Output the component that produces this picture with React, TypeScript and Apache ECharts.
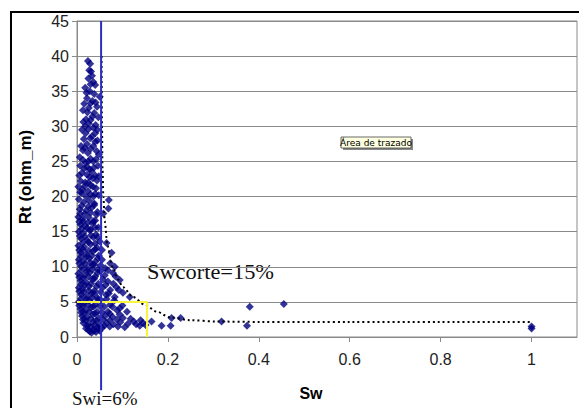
import React, { useEffect, useRef } from "react";
import * as echarts from "echarts";

// Scatter data [Sw, Rt]
const swUpper: number[][] = [
  [0.024, 39.3], [0.029, 38.9], [0.033, 37.2], [0.036, 36.3], [0.018, 35.5], [0.04, 35.9], [0.028, 35.0],
  [0.022, 34.0], [0.05, 34.2], [0.034, 33.6], [0.044, 32.8], [0.013, 32.3], [0.026, 32.6], [0.038, 31.9],
  [0.047, 31.3], [0.02, 31.0], [0.03, 30.9], [0.018, 30.0], [0.041, 30.2], [0.011, 29.5], [0.025, 29.6],
  [0.04, 29.0], [0.033, 28.6], [0.015, 28.2], [0.045, 28.0], [0.022, 27.5], [0.036, 27.2], [0.013, 26.6],
  [0.024, 26.2], [0.043, 26.5], [0.006, 25.6], [0.03, 25.4], [0.036, 25.0], [0.019, 24.8], [0.046, 24.4],
  [0.022, 24.2], [0.011, 23.4], [0.032, 23.6], [0.04, 23.0], [0.028, 22.8], [0.018, 22.0], [0.044, 22.3],
  [0.003, 21.4], [0.035, 21.4], [0.012, 21.0], [0.024, 20.8], [0.011, 20.5], [0.04, 20.4], [0.02, 20.0],
  [0.048, 20.2],
];
const swUpperFill: number[][] = [
  [0.027, 38.0], [0.031, 37.8], [0.025, 36.8], [0.03, 36.0], [0.021, 34.8], [0.038, 34.6], [0.016, 33.2],
  [0.03, 33.3], [0.041, 33.4], [0.023, 32.0], [0.034, 31.4], [0.014, 30.6], [0.026, 30.4], [0.036, 29.8],
  [0.045, 29.5], [0.019, 29.0], [0.029, 28.3], [0.04, 27.8], [0.009, 27.2], [0.017, 26.9], [0.03, 26.8],
  [0.048, 26.0], [0.013, 25.2], [0.025, 25.0], [0.042, 25.3], [0.007, 24.4], [0.016, 24.0], [0.028, 23.9],
  [0.037, 24.1], [0.005, 23.0], [0.022, 23.1], [0.035, 22.6], [0.048, 22.9], [0.008, 22.2], [0.025, 22.0],
  [0.03, 21.6], [0.042, 21.2], [0.017, 21.5], [0.007, 20.6], [0.03, 20.3], [0.036, 20.0],
];
const swLower: number[][] = [
  [0.004, 19.6], [0.015, 19.2], [0.027, 19.4], [0.038, 19.0], [0.07, 19.5], [0.069, 18.3], [0.058, 17.6],
  [0.006, 18.2], [0.02, 18.0], [0.032, 18.4], [0.045, 17.8],
  [0.003, 17.1], [0.012, 16.8], [0.026, 17.0], [0.04, 16.6],
  [0.008, 16.0], [0.018, 15.8], [0.034, 16.2], [0.047, 15.6],
  [0.004, 15.0], [0.014, 14.8], [0.028, 15.2], [0.042, 14.6],
  [0.009, 14.0], [0.022, 13.8], [0.036, 14.2], [0.05, 13.6],
  [0.003, 13.0], [0.016, 12.8], [0.03, 13.2], [0.044, 12.7], [0.065, 13.4],
  [0.008, 12.0], [0.02, 11.8], [0.035, 12.2], [0.048, 11.6], [0.076, 12.0],
  [0.004, 11.0], [0.014, 10.8], [0.027, 11.2], [0.04, 10.7], [0.055, 11.0],
  [0.009, 10.0], [0.022, 9.8], [0.033, 10.2], [0.046, 9.6], [0.073, 10.5], [0.083, 10.0], [0.062, 9.8],
  [0.003, 9.0], [0.016, 8.8], [0.028, 9.2], [0.04, 8.6], [0.079, 9.1], [0.061, 8.8], [0.052, 9.4],
  [0.008, 8.0], [0.02, 7.8], [0.034, 8.2], [0.047, 7.6], [0.094, 8.1], [0.068, 7.9],
  [0.004, 7.0], [0.013, 6.8], [0.026, 7.2], [0.038, 6.6], [0.087, 7.1], [0.073, 6.7], [0.056, 7.0],
  [0.009, 6.0], [0.021, 5.8], [0.032, 6.2], [0.045, 5.6], [0.101, 6.3], [0.083, 5.7], [0.116, 5.7], [0.064, 6.0],
  [0.004, 5.0], [0.015, 4.8], [0.027, 5.2], [0.04, 4.6], [0.055, 5.1], [0.073, 4.6], [0.094, 4.1],
  [0.008, 4.0], [0.019, 3.8], [0.031, 4.2], [0.044, 3.6], [0.068, 3.6], [0.088, 3.8], [0.11, 3.6], [0.06, 4.3],
  [0.011, 3.0], [0.022, 2.8], [0.035, 3.2], [0.048, 2.7], [0.101, 2.7], [0.062, 3.0], [0.078, 2.9],
];
const swLowerFill: number[][] = [
  [0.01, 18.7], [0.025, 18.6], [0.038, 18.8],
  [0.007, 17.6], [0.017, 17.5], [0.03, 17.7], [0.043, 17.4],
  [0.005, 16.4], [0.013, 16.5], [0.024, 16.3], [0.036, 16.5],
  [0.01, 15.4], [0.022, 15.5], [0.03, 15.3], [0.04, 15.6],
  [0.006, 14.4], [0.017, 14.3], [0.031, 14.5], [0.045, 14.2],
  [0.012, 13.4], [0.025, 13.5], [0.04, 13.3],
  [0.005, 12.4], [0.013, 12.5], [0.026, 12.3], [0.04, 12.5], [0.055, 12.4],
  [0.009, 11.5], [0.021, 11.4], [0.033, 11.6], [0.046, 11.2],
  [0.005, 10.5], [0.017, 10.4], [0.029, 10.6], [0.038, 10.3], [0.052, 10.2],
  [0.01, 9.5], [0.022, 9.4], [0.034, 9.6], [0.045, 9.1], [0.068, 9.5],
  [0.005, 8.5], [0.013, 8.4], [0.025, 8.6], [0.038, 8.3], [0.057, 8.2], [0.085, 8.6],
  [0.009, 7.5], [0.017, 7.4], [0.031, 7.6], [0.043, 7.2], [0.063, 7.4], [0.08, 7.6],
  [0.005, 6.5], [0.014, 6.4], [0.026, 6.6], [0.038, 6.2], [0.052, 6.4], [0.092, 6.7], [0.07, 6.2],
  [0.009, 5.5], [0.02, 5.4], [0.033, 5.6], [0.046, 5.3], [0.065, 5.4], [0.082, 5.2],
  [0.005, 4.5], [0.013, 4.4], [0.024, 4.6], [0.036, 4.3], [0.05, 4.4], [0.078, 4.3], [0.1, 4.5],
  [0.009, 3.5], [0.016, 3.4], [0.027, 3.6], [0.04, 3.3], [0.055, 3.5], [0.072, 3.3], [0.094, 3.2],
  [0.013, 2.5], [0.019, 2.4], [0.03, 2.6], [0.043, 2.3], [0.057, 2.5], [0.072, 2.4], [0.088, 2.5], [0.118, 2.6], [0.14, 2.4],
];
const swBand: number[][] = [
  [0.014, 2.0], [0.025, 1.8], [0.037, 2.2], [0.05, 1.7], [0.065, 2.0], [0.08, 1.8], [0.095, 2.1],
  [0.112, 1.9], [0.125, 2.2], [0.138, 1.6], [0.151, 1.7], [0.164, 2.2], [0.186, 1.6], [0.206, 1.6],
  [0.208, 2.7], [0.228, 2.7],
  [0.02, 1.2], [0.028, 0.8], [0.035, 1.0], [0.042, 0.7], [0.03, 1.5], [0.045, 1.4], [0.055, 1.3],
  [0.022, 1.6], [0.038, 1.7], [0.048, 1.2], [0.06, 1.6], [0.072, 1.5], [0.09, 1.5], [0.105, 1.4],
  [0.13, 1.8], [0.145, 2.0], [0.025, 1.0], [0.032, 0.6], [0.038, 0.9], [0.05, 0.9],
];
const swFar: number[][] = [
  [0.318, 2.2], [0.374, 1.6], [0.38, 4.3], [0.455, 4.7], [1.0, 1.2], [1.0, 1.5],
];

// Trend curve (dotted)
const trendSw = [0.054, 0.055, 0.056, 0.058, 0.061, 0.067, 0.078, 0.09, 0.101, 0.123, 0.149, 0.176, 0.204, 0.248, 0.308, 0.4, 0.6, 0.8, 1.0];
const trendRt = [40, 30, 24, 20, 16.5, 13, 10, 8.2, 7.1, 5.7, 4.6, 3.6, 2.8, 2.4, 2.2, 2.15, 2.15, 2.15, 2.15];

// Cut-off markers
const swiValue = 0.053; // Swi line
const swcorteValue = 0.154; // Swcorte
const rtCut = 5;

const xTicks = { min: 0, max: 1.1, interval: 0.2 };
const yTicks = { min: 0, max: 45, interval: 5 };

export default function App() {
  const ref = useRef<HTMLDivElement>(null);
  useEffect(() => {
    if (!ref.current) return;
    const chart = echarts.init(ref.current, undefined, { renderer: "svg" });
    const axisFont = { fontFamily: "Liberation Sans, Arial, sans-serif", fontSize: 16, color: "#222" };
    const scatterStyle = { color: "#000080" };
    const allScatter = [...swUpper, ...swUpperFill, ...swLower, ...swLowerFill, ...swBand, ...swFar];
    chart.setOption({
      animation: false,
      backgroundColor: "#fff",
      grid: { left: 77, right: 2, top: 21, bottom: 71, show: true, borderColor: "#8a8a8a", borderWidth: 1, backgroundColor: "transparent" },
      xAxis: {
        type: "value",
        min: xTicks.min,
        max: xTicks.max,
        interval: xTicks.interval,
        splitLine: { show: false },
        axisLine: { show: true, onZero: false, lineStyle: { color: "#8a8a8a", width: 1 } },
        axisTick: { show: true, inside: false, length: 5, lineStyle: { color: "#8a8a8a" } },
        axisLabel: { ...axisFont, margin: 14, showMaxLabel: false },
      },
      yAxis: {
        type: "value",
        min: yTicks.min,
        max: yTicks.max,
        interval: yTicks.interval,
        splitLine: { show: true, lineStyle: { color: "#8a8a8a", width: 1 } },
        axisLine: { show: true, lineStyle: { color: "#8a8a8a", width: 1 } },
        axisTick: { show: true, inside: false, length: 5, lineStyle: { color: "#8a8a8a" } },
        axisLabel: { ...axisFont, margin: 8 },
      },
      series: [
        {
          type: "scatter",
          data: allScatter,
          symbol: "diamond",
          symbolSize: 8,
          itemStyle: scatterStyle,
          z: 2,
        },
        {
          type: "line",
          data: trendSw.map((s, i) => [s, trendRt[i]]),
          smooth: 0.3,
          smoothMonotone: "x",
          symbol: "none",
          lineStyle: { color: "#000", width: 2, type: [2, 3] },
          z: 3,
        },
        {
          type: "line",
          data: [[0, rtCut], [swcorteValue, rtCut], [swcorteValue, 0]],
          symbol: "none",
          lineStyle: { color: "#f7f53c", width: 2 },
          z: 4,
        },
        {
          type: "line",
          data: [[swiValue, 45], [swiValue, -7.6]],
          symbol: "none",
          clip: false,
          lineStyle: { color: "#2c2cc0", width: 2 },
          z: 5,
        },
      ],
      graphic: [
        {
          type: "polyline",
          shape: { points: [[11, 408], [11, 12], [579, 12]] },
          style: { stroke: "#000", lineWidth: 2, fill: "none" },
        },
        {
          type: "text",
          x: 25,
          y: 177,
          rotation: Math.PI / 2,
          style: {
            text: "Rt (ohm_m)",
            font: "bold 17px Liberation Sans, Arial, sans-serif",
            fill: "#000",
            align: "center",
            verticalAlign: "middle",
          },
        },
        {
          type: "text",
          x: 311,
          y: 393,
          style: {
            text: "Sw",
            font: "bold 16px Liberation Sans, Arial, sans-serif",
            fill: "#000",
            align: "center",
            verticalAlign: "middle",
          },
        },
        {
          type: "text",
          x: 147,
          y: 272,
          scaleX: 1.12,
          style: {
            text: "Swcorte=15%",
            font: "20px Liberation Serif, Times New Roman, serif",
            fill: "#111",
            align: "left",
            verticalAlign: "middle",
          },
        },
        {
          type: "text",
          x: 72,
          y: 398,
          style: {
            text: "Swi=6%",
            font: "19px Liberation Serif, Times New Roman, serif",
            fill: "#111",
            align: "left",
            verticalAlign: "middle",
          },
        },
        {
          type: "rect",
          shape: { x: 343, y: 139, width: 70, height: 11 },
          style: { fill: "#888", stroke: "none" },
        },
        {
          type: "rect",
          shape: { x: 341, y: 137, width: 70, height: 11 },
          style: { fill: "#ffffe1", stroke: "#444", lineWidth: 0.8 },
        },
        {
          type: "text",
          x: 376,
          y: 143,
          style: {
            text: "Área de trazado",
            font: "9px DejaVu Sans, sans-serif",
            fill: "#000",
            align: "center",
            verticalAlign: "middle",
          },
        },
      ],
    });
    return () => chart.dispose();
  }, []);
  return <div ref={ref} style={{ position: "fixed", left: 0, top: 0, width: 579, height: 408 }} />;
}
